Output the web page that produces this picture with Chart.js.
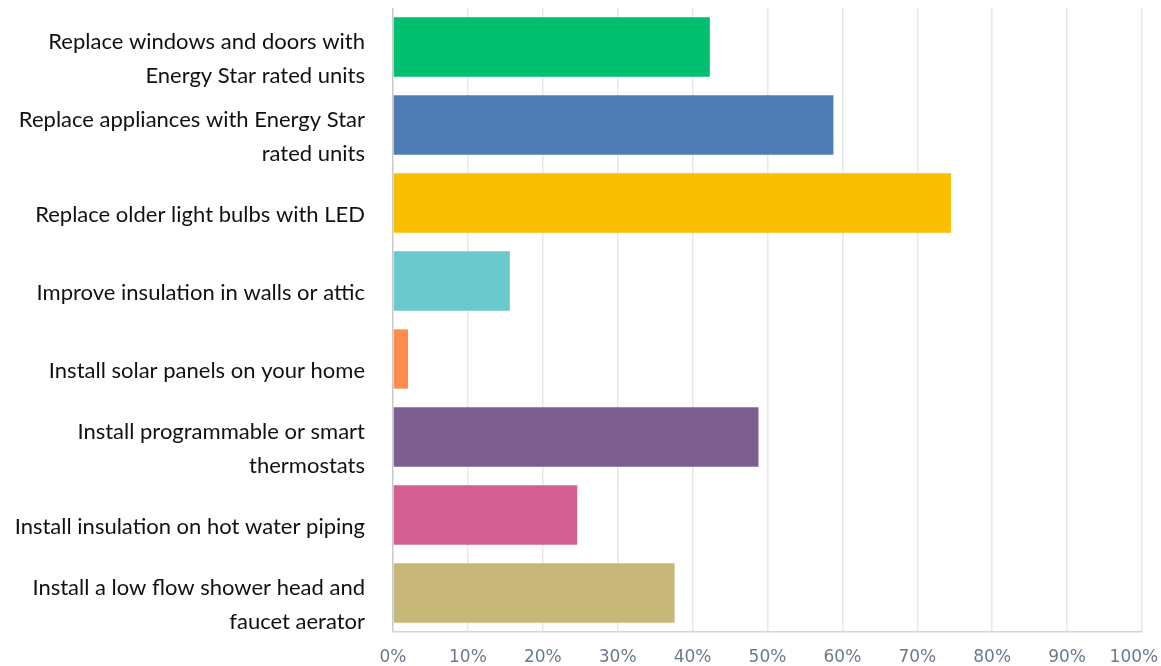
<!DOCTYPE html>
<html>
<head>
<meta charset="utf-8">
<title>Energy saving improvements</title>
<script src="https://cdn.jsdelivr.net/npm/chart.js@4.4.1/dist/chart.umd.min.js"></script>
<style>
  html, body { margin: 0; padding: 0; background: #ffffff; }
  #wrap { width: 1161px; height: 666px; position: relative; }
</style>
</head>
<body>
<div id="wrap"><canvas id="improvementChart"></canvas></div>
<script>
// ------------------- Data -------------------
const categories = [
  ["Replace windows and doors with", "Energy Star rated units"],
  ["Replace appliances with Energy Star", "rated units"],
  "Replace older light bulbs with LED",
  "Improve insulation in walls or attic",
  "Install solar panels on your home",
  ["Install programmable or smart", "thermostats"],
  "Install insulation on hot water piping",
  ["Install a low flow shower head and", "faucet aerator"]
];
const percentValues = [42.3, 58.8, 74.5, 15.6, 2.0, 48.8, 24.6, 37.6];
const barColors = [
  "#00bf6f", // green
  "#507cb6", // blue
  "#f9be00", // yellow
  "#6bc8cd", // teal
  "#ff8b4f", // orange
  "#7d5e90", // purple
  "#d25f90", // pink
  "#c7b879"  // tan
];
const xTickValues = [0, 10, 20, 30, 40, 50, 60, 70, 80, 90, 100];

document.addEventListener("DOMContentLoaded", function () {
  renderImprovementChart();
});

// HORIZONTAL BAR CHART: share of respondents per improvement
function renderImprovementChart() {
  new Chart(document.getElementById("improvementChart"), {
    type: "bar",
    data: {
      labels: categories,
      datasets: [{
        data: percentValues,
        backgroundColor: barColors,
        borderWidth: 0,
        categoryPercentage: 1.0,
        barPercentage: 0.76,
      }],
    },
    options: {
      indexAxis: "y",
      responsive: true,
      maintainAspectRatio: false,
      animation: false,
      layout: { padding: { top: 8, right: 19, left: 0, bottom: 0 } },
      scales: {
        x: {
          min: 0,
          max: 100,
          afterBuildTicks: (scale) => {
            scale.ticks = xTickValues.map((v) => ({ value: v }));
          },
          afterFit: (scale) => {
            scale.height = 34;
            scale.paddingRight = 0;
            scale.paddingLeft = 0;
          },
          ticks: {
            color: "#6b7a8a",
            padding: 15,
            font: { family: "DejaVu Sans", size: 17 },
            maxRotation: 0,
            autoSkip: false,
            // last label nudged left so it stays inside the canvas
            callback: (value) => (value === 100 ? value + "%   " : value + "%")
          },
          grid: {
            drawTicks: false,
            lineWidth: 1.5,
            color: (ctx) => (ctx.tick && ctx.tick.value === 0 ? "#c9c9c9" : "#e8e8e8")
          },
          border: { display: true, color: "#d4d4d4", width: 1.5 }
        },
        y: {
          afterFit: (scale) => {
            scale.width = 393;
            scale.paddingTop = 0;
            scale.paddingBottom = 0;
          },
          ticks: {
            color: "#111111",
            padding: 28,
            labelOffset: 12,
            autoSkip: false,
            font: { family: "Lato", size: 22, lineHeight: 1.52 }
          },
          grid: { display: false, drawTicks: false },
          border: { display: false }
        }
      },
      plugins: {
        legend: { display: false },
        tooltip: { enabled: false }
      }
    },
  });
}
</script>
</body>
</html>
